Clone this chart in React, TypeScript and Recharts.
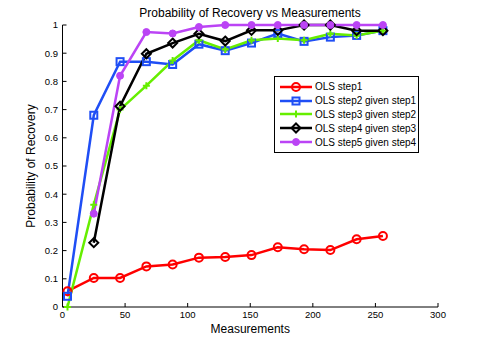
import { LineChart, Line, XAxis, YAxis, Legend } from 'recharts'

// sample sizes (x axis)
const measurements = [4, 25, 46, 67, 88, 109, 130, 151, 172, 193, 214, 235, 256]

const step1 = [0.056, 0.103, 0.103, 0.144, 0.151, 0.175, 0.177, 0.184, 0.212, 0.205, 0.202, 0.24, 0.252]
const step2 = [0.038, 0.68, 0.87, 0.87, 0.86, 0.932, 0.909, 0.936, 0.97, 0.942, 0.957, 0.963, 0.98]
const step3 = [0, 0.363, 0.7, 0.785, 0.874, 0.946, 0.913, 0.946, 0.952, 0.946, 0.969, 0.963, 0.98]
const step4 = [null, 0.228, 0.712, 0.898, 0.936, 0.969, 0.943, 0.981, 0.981, 1.0, 1.0, 0.98, 0.98]
const step5 = [null, 0.331, 0.82, 0.975, 0.97, 0.993, 1, 1, 1, 1, 1, 1, 1]

const xTicks = [0, 50, 100, 150, 200, 250, 300]
const yTicks = [0, 0.1, 0.2, 0.3, 0.4, 0.5, 0.6, 0.7, 0.8, 0.9, 1]

const FONT = '"Liberation Sans", Arial, Helvetica, sans-serif'

const SERIES = [
    { key: 's1', name: 'OLS step1', color: '#ff0000', marker: 'circle', values: step1 },
    { key: 's2', name: 'OLS step2 given step1', color: '#1f4ef5', marker: 'square', values: step2 },
    { key: 's3', name: 'OLS step3 given step2', color: '#66ee00', marker: 'plus', values: step3 },
    { key: 's4', name: 'OLS step4 given step3', color: '#000000', marker: 'diamond', values: step4 },
    { key: 's5', name: 'OLS step5 given step4', color: '#bb44f5', marker: 'dot', values: step5 },
]

const data = measurements.map((m, i) => {
    const row: any = { m }
    SERIES.forEach(s => { row[s.key] = s.values[i] })
    return row
})

function Marker({ cx, cy, kind, color }: { cx: number; cy: number; kind: string; color: string }) {
    if (cx == null || cy == null || isNaN(cx) || isNaN(cy)) return null
    switch (kind) {
        case 'circle':
            return <circle cx={cx} cy={cy} r={4} fill="none" stroke={color} strokeWidth={2} />
        case 'square':
            return <rect x={cx - 3.5} y={cy - 3.5} width={7} height={7} fill="none" stroke={color} strokeWidth={2} />
        case 'plus':
            return <path d={`M${cx - 3.5},${cy}H${cx + 3.5}M${cx},${cy - 3.5}V${cy + 3.5}`} stroke={color} strokeWidth={2} />
        case 'diamond':
            return <path d={`M${cx},${cy - 4.5}L${cx + 4.5},${cy}L${cx},${cy + 4.5}L${cx - 4.5},${cy}Z`} fill="none" stroke={color} strokeWidth={2} />
        default:
            return <circle cx={cx} cy={cy} r={3.5} fill={color} stroke={color} strokeWidth={1} />
    }
}

function LegendBox() {
    return (
        <div style={{ border: '1px solid #000', background: '#fff', width: 143, padding: '3px 0 3px 0', fontFamily: FONT, fontSize: 10 }}>
            {SERIES.map(s => (
                <div key={s.key} style={{ display: 'flex', alignItems: 'center', height: 13.8 }}>
                    <svg width={40} height={12} style={{ flex: 'none' }}>
                        <line x1={5} x2={37} y1={6} y2={6} stroke={s.color} strokeWidth={2.5} />
                        <Marker cx={21} cy={6} kind={s.marker} color={s.color} />
                    </svg>
                    <span style={{ color: '#000', whiteSpace: 'nowrap' }}>{s.name}</span>
                </div>
            ))}
        </div>
    )
}

export default function App() {
    return (
        <div style={{ position: 'absolute', left: 0, top: 0, width: 485, height: 346, background: '#fff', fontFamily: FONT }}>
            <div style={{ position: 'absolute', left: 0, top: 6, width: 500, textAlign: 'center', fontSize: 12, color: '#000' }}>
                Probability of Recovery vs Measurements
            </div>
            <LineChart width={485} height={346} data={data} margin={{ top: 25, right: 47, left: 2, bottom: 0 }}>
                <XAxis
                    dataKey="m"
                    type="number"
                    domain={[0, 300]}
                    ticks={xTicks}
                    height={39}
                    tickSize={-4}
                    tickMargin={8}
                    stroke="#000"
                    tick={{ fill: '#000', fontSize: 9.5, fontFamily: FONT }}
                    label={{
                        content: ({ viewBox }: any) => (
                            <text x={viewBox.x + viewBox.width / 2} y={viewBox.y + 26} textAnchor="middle" fontSize={12} fill="#000" fontFamily={FONT}>
                                Measurements
                            </text>
                        ),
                    }}
                />
                <XAxis xAxisId="top" orientation="top" type="number" domain={[0, 300]} ticks={xTicks} height={0} tickSize={-4} tick={false} stroke="#000" />
                <YAxis
                    type="number"
                    domain={[0, 1]}
                    ticks={yTicks}
                    width={60.5}
                    tickSize={-4}
                    tickMargin={8.5}
                    stroke="#000"
                    tick={{ fill: '#000', fontSize: 9.5, fontFamily: FONT }}
                    tickFormatter={(v: number) => (v === 0 ? '0' : v === 1 ? '1' : v.toFixed(1))}
                    label={{
                        content: ({ viewBox }: any) => {
                            const x = viewBox.x + 33
                            const y = viewBox.y + viewBox.height / 2
                            return (
                                <text x={x} y={y} transform={`rotate(-90 ${x} ${y})`} textAnchor="middle" fontSize={12} fill="#000" fontFamily={FONT}>
                                    Probability of Recovery
                                </text>
                            )
                        },
                    }}
                />
                <YAxis yAxisId="right" orientation="right" type="number" domain={[0, 1]} ticks={yTicks} width={0} tickSize={-4} tick={false} stroke="#000" />
                <Legend
                    layout="vertical"
                    align="center"
                    verticalAlign="middle"
                    content={() => <LegendBox />}
                    wrapperStyle={{ position: 'absolute', left: 274, top: 76, width: 'auto' }}
                />
                {SERIES.map(s => (
                    <Line
                        key={s.key}
                        dataKey={s.key}
                        name={s.name}
                        stroke={s.color}
                        strokeWidth={2.5}
                        isAnimationActive={false}
                        dot={(p: any) => <Marker key={`${s.key}-${p.index}`} cx={p.cx} cy={p.cy} kind={s.marker} color={s.color} />}
                        activeDot={false}
                    />
                ))}
            </LineChart>
        </div>
    )
}
